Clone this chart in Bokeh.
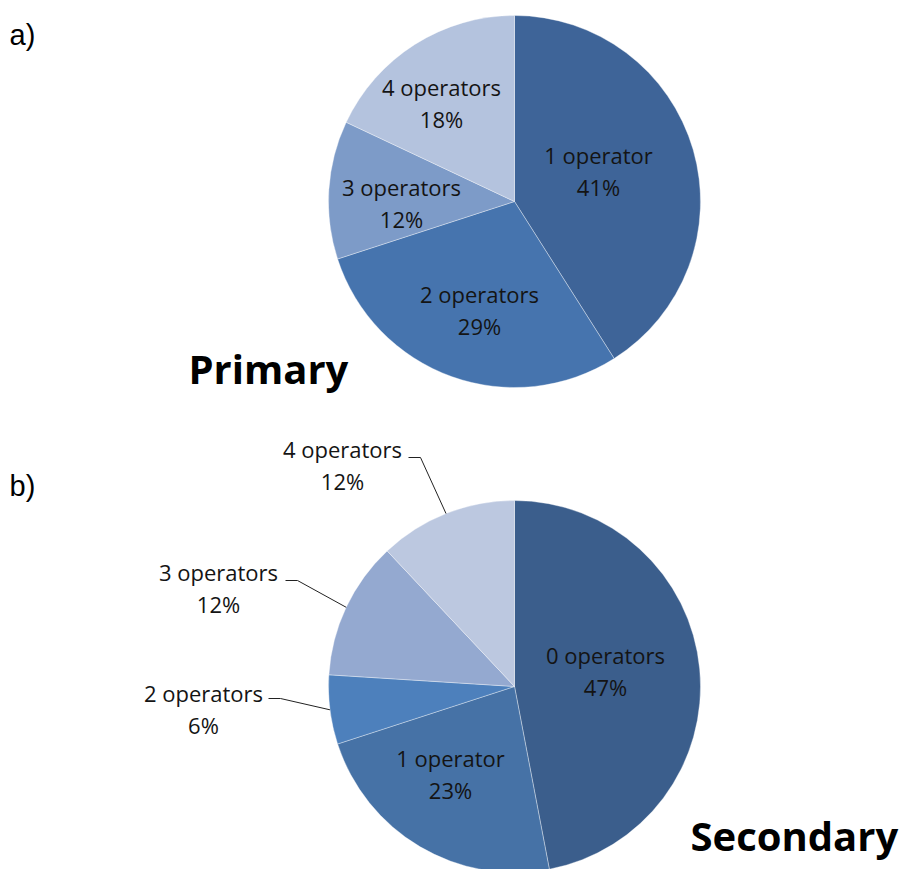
import numpy as np
from bokeh.plotting import figure
from bokeh.models import ColumnDataSource, Range1d
from bokeh.core.properties import value
from bokeh.embed import file_html
from bokeh.resources import INLINE

# ---- data -------------------------------------------------------------
primary_labels = ["1 operator", "2 operators", "3 operators", "4 operators"]
primary_share = [41, 29, 12, 18]
primary_colors = ["#3E6498", "#4674AE", "#7D9BC8", "#B4C3DE"]

secondary_labels = ["0 operators", "1 operator", "2 operators", "3 operators", "4 operators"]
secondary_share = [47, 23, 6, 12, 12]
secondary_colors = ["#3B5E8C", "#4672A6", "#4D80BC", "#94A9D0", "#BCC8E0"]

# ---- layout (page pixels, y measured downward) -------------------------
W, H = 902, 869
R = 186
primary_center = (514, 201)
secondary_center = (514, 686)

# label anchor (centre of the name line) for every slice
primary_label_pos = [(598, 154), (479, 293), (401, 186), (441, 86)]
secondary_label_pos = [(605, 654), (450, 757), (203, 692), (218, 571), (342, 448)]
# slices whose labels sit outside the pie, with the start of the leader line
secondary_leaders = {2: (268, 698), 3: (285, 580), 4: (408, 457)}
LINE_GAP = 32

FONT = "Open Sans"
TEXT_COLOR = "#141414"


def fy(py):
    return H - py


p = figure(width=W, height=H, x_range=Range1d(0, W), y_range=Range1d(0, H),
           output_backend="svg", toolbar_location=None, min_border=0,
           background_fill_color="white", border_fill_color="white")
p.axis.visible = False
p.grid.visible = False
p.outline_line_color = None


def draw_pie(center, shares, labels, colors, label_pos, leaders=None):
    cx, cy = center
    frac = np.array(shares, dtype=float) / float(sum(shares))
    cum = np.concatenate([[0.0], np.cumsum(frac)])
    # clockwise from 12 o'clock, expressed as counter-clockwise math angles
    theta_start = 2 * np.pi * cum[:-1]
    theta_end = 2 * np.pi * cum[1:]
    src = ColumnDataSource(dict(
        x=[cx] * len(shares), y=[fy(cy)] * len(shares),
        start=np.pi / 2 - theta_end, end=np.pi / 2 - theta_start,
        color=colors,
    ))
    p.wedge(x="x", y="y", radius=R, start_angle="start", end_angle="end",
            direction="anticlock", fill_color="color", line_color="white",
            line_alpha=0.45, line_width=0.8, source=src)

    names_src = ColumnDataSource(dict(
        x=[lp[0] for lp in label_pos], y=[fy(lp[1]) for lp in label_pos],
        text=labels))
    pct_src = ColumnDataSource(dict(
        x=[lp[0] for lp in label_pos], y=[fy(lp[1] + LINE_GAP) for lp in label_pos],
        text=[f"{s}%" for s in shares]))
    for s in (names_src, pct_src):
        p.text(x="x", y="y", text="text", source=s, text_align="center",
               text_baseline="middle", text_font=value(FONT),
               text_font_size="22px", text_color=TEXT_COLOR)

    if leaders:
        mid = (theta_start + theta_end) / 2
        for i, (lx, ly) in leaders.items():
            ex = cx + R * np.sin(mid[i])
            ey = cy - R * np.cos(mid[i])
            if ex < lx - 40:
                xs, ys = [lx, ex], [ly, ey]
            else:
                xs, ys = [lx, lx + 12, ex], [ly, ly, ey]
            p.line(x=xs, y=[fy(v) for v in ys], line_color="#222222", line_width=1)


draw_pie(primary_center, primary_share, primary_labels, primary_colors,
         primary_label_pos)
draw_pie(secondary_center, secondary_share, secondary_labels, secondary_colors,
         secondary_label_pos, secondary_leaders)

# ---- titles and panel letters ------------------------------------------
p.text(x=[188], y=[fy(368)], text=["Primary"], text_align="left",
       text_baseline="alphabetic", text_font=value(FONT), text_font_style="bold",
       text_font_size="40px", text_color="#000000")
p.text(x=[690], y=[fy(835)], text=["Secondary"], text_align="left",
       text_baseline="alphabetic", text_font=value(FONT), text_font_style="bold",
       text_font_size="40px", text_color="#000000")
p.text(x=[9, 9], y=[fy(34), fy(485)], text=["a)", "b)"], text_align="left",
       text_baseline="alphabetic", text_font=value("Liberation Sans"),
       text_font_size="29px", text_color="#000000")

open("out.html", "w").write(file_html(p, INLINE))
